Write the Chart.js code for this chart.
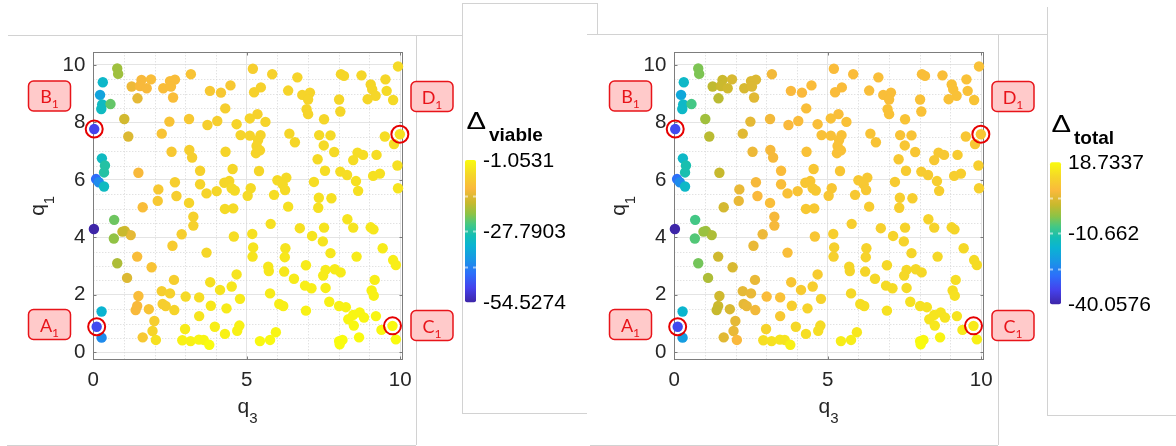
<!DOCTYPE html>
<html>
<head>
<meta charset="utf-8">
<script src="https://cdn.jsdelivr.net/npm/chart.js@4.4.0/dist/chart.umd.min.js"></script>
<style>
  body { margin: 0; background: #fff; }
  #wrap { position: relative; width: 1176px; height: 446px; overflow: hidden; background: #fff; }
  .ln { position: absolute; background: #d2d2d2; }
  canvas { position: absolute; top: 0; }
</style>
</head>
<body>
<div id="wrap">
  <!-- marcos grises de las capturas -->
  <div class="ln" style="left:8px;top:35px;width:454px;height:1px"></div>
  <div class="ln" style="left:7px;top:445px;width:409px;height:1px"></div>
  <div class="ln" style="left:416px;top:35px;width:1px;height:410px"></div>
  <div class="ln" style="left:462px;top:3px;width:135px;height:1px"></div>
  <div class="ln" style="left:462px;top:3px;width:1px;height:410px"></div>
  <div class="ln" style="left:462px;top:413px;width:125px;height:1px"></div>
  <div class="ln" style="left:597px;top:3px;width:1px;height:31px"></div>
  <div class="ln" style="left:587px;top:34px;width:460px;height:1px"></div>
  <div class="ln" style="left:998px;top:34px;width:1px;height:411px"></div>
  <div class="ln" style="left:590px;top:445px;width:408px;height:1px"></div>
  <div class="ln" style="left:1047px;top:7px;width:1px;height:408px"></div>
  <div class="ln" style="left:1047px;top:415px;width:129px;height:1px"></div>
  <canvas id="izq" width="581" height="446" style="left:0"></canvas>
  <canvas id="der" width="595" height="446" style="left:581px"></canvas>
</div>
<script>
// ==============================
// DATOS
// ==============================
const q3 = [
  0.78, 0.81, 0.31, 0.22, 0.29, 0.26, 0.56, 0.03, 1.01, 1.14,
  0.28, 0.38, 0.35, 0.09, 0.18, 0.35, 1.25, 1.57, 1.52, 1.74,
  1.88, 1.44, 2.28, 2.50, 2.66, 2.53, 2.60, 3.18, 3.80, 4.16,
  4.47, 4.30, 5.20, 2.48, 3.12, 3.72, 4.04, 4.67, 4.80, 5.10,
  5.10, 2.23, 2.55, 3.13, 3.22, 4.31, 3.48, 4.54, 1.47, 2.66,
  3.48, 4.27, 4.43, 4.51, 4.61, 2.12, 3.69, 4.02, 2.71, 2.10,
  3.12, 1.61, 4.29, 4.56,
  5.83, 6.65, 8.07, 8.17, 8.74, 9.93, 5.46, 5.24, 6.35, 6.81,
  7.06, 7.00, 8.01, 9.04, 9.09, 9.20, 8.94, 9.52, 9.56, 9.77,
  6.95, 7.00, 8.05, 5.35, 5.61, 7.52, 5.45, 5.37, 6.39, 6.57,
  7.36, 7.73, 7.51, 7.85, 5.32, 5.43, 5.30, 9.50, 9.99, 9.80,
  7.31, 8.47, 8.61, 8.79, 9.23, 5.40, 7.55, 8.05, 8.27, 9.12,
  9.34, 9.91, 6.00, 6.29, 6.17, 6.25, 7.19, 8.56, 8.63, 5.13,
  5.03, 5.89, 7.35, 7.76, 9.93, 6.35, 7.33,
  0.02, 0.68, 0.67, 0.78, 1.03, 1.22, 0.95, 1.10, 1.43, 1.90,
  1.47, 1.43, 1.38, 1.81, 1.99, 1.93, 2.04, 1.61, 0.27, 0.11,
  0.27, 2.23, 2.50, 2.26, 2.36, 2.64, 2.63, 2.58, 2.88, 3.26,
  3.26, 3.01, 3.45, 3.45, 2.99, 2.90, 3.17, 3.44, 3.60, 3.78,
  3.69, 3.81, 3.83, 3.96, 4.13, 4.34, 4.51, 4.67, 4.78, 4.58,
  4.76, 4.69, 4.29,
  8.28, 8.47, 9.04, 9.13, 5.78, 6.73, 7.52, 7.13, 7.48, 5.18,
  5.21, 5.19, 6.26, 6.24, 7.73, 8.58, 9.43, 9.77, 9.86, 5.70,
  5.72, 6.22, 6.93, 7.57, 7.49, 7.87, 8.06, 6.54, 6.90, 7.11,
  7.57, 5.76, 9.17, 9.07, 9.14, 6.06, 6.19, 6.93, 7.69, 8.01,
  8.23, 8.47, 8.31, 8.68, 8.82, 9.21, 8.49, 9.39, 9.75, 9.86,
  5.95, 5.76, 5.43, 8.01, 8.12, 8.03, 8.66
];
const q1 = [
  9.88, 9.69, 9.40, 8.96, 8.63, 8.47, 8.64, 7.77, 8.12, 7.51,
  6.75, 6.50, 6.26, 6.03, 5.92, 5.77, 9.25, 9.48, 9.27, 9.19,
  9.50, 8.84, 9.19, 9.44, 9.49, 9.25, 8.87, 9.68, 9.10, 9.04,
  9.29, 8.49, 9.87, 8.03, 8.12, 7.91, 8.05, 7.94, 7.56, 8.14,
  7.54, 7.61, 6.98, 7.04, 6.78, 6.98, 6.32, 6.38, 6.25, 5.92,
  5.85, 5.90, 5.96, 5.71, 5.63, 5.67, 5.53, 5.61, 5.44, 5.27,
  5.20, 5.05, 4.99, 5.01,
  9.68, 9.57, 9.68, 9.62, 9.64, 9.95, 9.22, 9.05, 9.11, 8.96,
  9.04, 8.80, 8.80, 9.32, 9.15, 8.93, 8.81, 9.50, 9.10, 8.78,
  8.46, 8.29, 8.38, 8.29, 8.02, 8.11, 7.56, 7.39, 7.61, 7.31,
  7.56, 7.55, 7.20, 6.97, 7.18, 7.03, 6.93, 7.51, 7.59, 7.25,
  6.72, 6.69, 6.95, 6.87, 6.87, 6.31, 6.32, 6.29, 6.17, 6.14,
  6.22, 6.50, 5.99, 6.08, 5.85, 5.65, 5.93, 5.96, 5.62, 5.71,
  5.45, 5.48, 5.38, 5.36, 5.71, 5.07, 5.03,
  4.29, 4.61, 3.96, 3.10, 4.22, 4.08, 4.20, 2.59, 3.33, 2.96,
  1.96, 1.61, 1.47, 1.50, 1.09, 0.74, 0.43, 0.52, 1.42, 0.89,
  0.51, 2.13, 2.05, 1.68, 1.61, 1.47, 2.52, 3.71, 4.11, 4.72,
  4.41, 1.94, 1.91, 1.26, 0.81, 0.42, 0.39, 0.44, 0.43, 0.26,
  3.47, 2.44, 1.62, 0.89, 2.17, 1.53, 2.29, 2.71, 1.86, 4.03,
  0.93, 0.75, 0.64,
  4.63, 4.34, 4.35, 4.28, 4.47, 4.32, 4.34, 4.05, 3.86, 4.12,
  3.65, 3.33, 3.62, 3.31, 3.45, 3.33, 3.62, 3.21, 3.04, 2.98,
  2.83, 2.81, 3.03, 2.87, 2.67, 2.89, 2.78, 2.56, 2.32, 2.23,
  2.24, 2.05, 2.52, 2.15, 1.97, 1.68, 1.61, 1.45, 1.76, 1.61,
  1.57, 1.30, 1.15, 1.39, 1.21, 1.26, 0.93, 0.78, 0.92, 0.45,
  0.70, 0.43, 0.39, 0.39, 0.43, 0.28, 0.52
];
const deltaViable = [
  -20, -20, -32, -36, -31, -31, -23.5, -49, -16, -15,
  -31, -28, -28, -44, -40, -31, -13, -12, -12, -12,
  -11, -14, -11, -11, -11, -11, -11, -10, -9, -9,
  -9, -8, -8, -10, -9, -8, -8, -7, -7, -7,
  -7, -10, -9, -8, -8, -7, -7.5, -6.5, -12, -8,
  -7, -6.5, -6.5, -6, -6, -9, -7, -6.5, -8, -9,
  -7, -11, -6, -6,
  -7.5, -7, -6.5, -6.5, -6.5, -6, -7.5, -7.5, -7, -7,
  -7, -7, -6.5, -6.5, -6.5, -6.5, -6.5, -6.5, -6, -6,
  -7, -7, -6.5, -7.5, -7, -6.5, -7, -7, -6.5, -6.5,
  -6, -6, -6, -6, -7, -7, -7, -5.5, -5, -5.5,
  -6, -5.5, -5.5, -5.5, -5.5, -6.5, -5.5, -5.5, -5.5, -5,
  -5, -5, -6, -6, -6, -6, -5.5, -5, -5, -6,
  -6, -5.5, -5, -5, -4.5, -5, -5,
  -54.5, -23, -21, -19, -16, -14, -17, -15, -11, -10,
  -11, -12, -12, -10, -8, -7, -5, -9, -33, -48,
  -40, -8, -7.5, -8, -8, -7, -8, -8.5, -8, -7.5,
  -7.5, -6, -5.5, -4.5, -3.5, -2.5, -2.5, -2, -2, -1.1,
  -6.5, -5, -4, -3, -4.5, -3.5, -4, -4.5, -3.5, -5.5,
  -2.5, -2.5, -2.5,
  -4.5, -4.5, -4, -4, -5, -5, -4.5, -4.5, -4.5, -5,
  -4.5, -4.5, -4.5, -4, -4, -3.5, -3.5, -3, -3, -4,
  -4, -4, -3.5, -3.5, -3.5, -3.5, -3.5, -3.5, -3, -3,
  -3, -3.5, -3, -2.5, -2.5, -3, -3, -2.5, -2.5, -2.5,
  -2.5, -2, -2, -2, -2, -2, -1.5, -1.5, -1.5, -1.2,
  -2, -1.5, -1.5, -1.1, -1.1, -1.05, -1.2
];
const deltaTotal = [
  -4.5, -4.5, -15, -19, -15, -15, -8, -33, -2, 0,
  -15, -12, -12, -28, -24, -15, 0.5, 1.5, 1.5, 2,
  3, 0, 3, 3.5, 3.5, 3.5, 4, 6, 7, 7,
  7.5, 8, 7.5, 4.5, 6, 7, 7.5, 8, 8.5, 8.5,
  8.5, 4, 5.5, 6.5, 6.5, 8.5, 7.5, 9.5, 1, 6.5,
  8, 9.5, 9.5, 10, 10, 5, 8.5, 9, 7, 5,
  8, 2.5, 10, 10,
  7.5, 8, 8, 8, 8, 8.5, 7.5, 7.5, 8, 8,
  8, 8, 8.5, 8.5, 8.5, 8.5, 8.5, 8.5, 8.5, 9,
  8.5, 8.5, 8.5, 8, 8.5, 9, 8.5, 8.5, 9, 9,
  9, 9, 9.5, 9.5, 8.5, 8.5, 8.5, 9.5, 9.5, 9.5,
  10, 10, 10, 10, 10.5, 9.5, 10.5, 10.5, 10.5, 11,
  11, 11, 10, 10, 10, 10, 10.5, 11, 11, 9.5,
  9.5, 10, 11, 11, 11.5, 10.5, 11,
  -40, -8, -7, -5, -2, -1, -2.5, -1, 2, 3,
  2, 1.5, 1, 3, 4.5, 5, 7, 4, -16, -33,
  -21, 4.5, 5, 4.5, 5, 6, 5, 5, 5.5, 6.5,
  6.5, 7.5, 8.5, 10, 12, 14, 14.5, 15, 15, 17,
  8, 9.5, 11, 13, 10.5, 12, 11, 10.5, 12, 9.5,
  13.5, 14, 14,
  12, 12, 12.5, 12.5, 11, 11.5, 12, 12, 12, 11,
  11.5, 11.5, 12, 12, 12.5, 13, 13, 13.5, 13.5, 12.5,
  12.5, 12.5, 13, 13, 13, 13, 13, 13, 13.5, 13.5,
  13.5, 13, 14, 14, 14.5, 14, 14, 14.5, 14.5, 14.5,
  14.5, 15, 15, 15, 15, 15, 15.5, 16, 16, 17,
  15.5, 16.5, 16.5, 18, 18, 18.7, 17.5
];

// Ticks de los ejes y de las barras de color
const xTicks = [0, 5, 10];
const yTicks = [0, 2, 4, 6, 8, 10];
const viableTicks = [-1.0531, -27.7903, -54.5274];
const totalTicks = [18.7337, -10.662, -40.0576];

// Puntos marcados con círculo rojo y sus etiquetas
const markedQ3 = [0.03, 0.11, 9.99, 9.75];
const markedQ1 = [7.77, 0.89, 7.59, 0.92];
const markLetters = ["B", "A", "D", "C"];

// ==============================
// MAPA DE COLOR (tipo parula)
// ==============================
const parulaStops = [
  [0.00, 62, 38, 168], [0.10, 69, 65, 236], [0.20, 45, 110, 250],
  [0.30, 25, 150, 230], [0.40, 10, 180, 210], [0.47, 20, 190, 180],
  [0.55, 70, 200, 130], [0.62, 140, 195, 70], [0.70, 200, 185, 45],
  [0.80, 250, 185, 60], [0.90, 245, 215, 40], [1.00, 249, 251, 14]
];
function parula(t) {
  t = Math.max(0, Math.min(1, t));
  for (let i = 1; i < parulaStops.length; i++) {
    const a = parulaStops[i - 1], b = parulaStops[i];
    if (t <= b[0]) {
      const f = (t - a[0]) / (b[0] - a[0]);
      return `rgb(${Math.round(a[1] + f * (b[1] - a[1]))},${Math.round(a[2] + f * (b[2] - a[2]))},${Math.round(a[3] + f * (b[3] - a[3]))})`;
    }
  }
  return "rgb(249,251,14)";
}

const FONT = "'Liberation Sans', Arial, Helvetica, sans-serif";
const INK = "#262626";
Chart.defaults.font.family = FONT;

function textSub(ctx, main, sub, x, y, fMain, fSub, drop) {
  ctx.font = fMain;
  ctx.fillText(main, x, y);
  const w = ctx.measureText(main).width;
  ctx.font = fSub;
  ctx.fillText(sub, x + w, y + drop);
}
function widthSub(ctx, main, sub, fMain, fSub) {
  ctx.font = fMain; const a = ctx.measureText(main).width;
  ctx.font = fSub; return a + ctx.measureText(sub).width;
}

// ==============================
// PLUGIN DE DECORACIÓN
// ==============================
const deco = {
  id: "deco",
  beforeDatasetsDraw(chart, args, o) {
    const { ctx, chartArea: a, scales: { x, y } } = chart;
    ctx.save();
    // rejilla menor punteada
    ctx.strokeStyle = "#d6d6d6";
    ctx.lineWidth = 1;
    ctx.setLineDash([1, 2]);
    ctx.beginPath();
    for (let v = 1; v < 10; v++) {
      if (v === 5) continue;
      const px = Math.round(x.getPixelForValue(v)) + 0.5;
      ctx.moveTo(px, a.top); ctx.lineTo(px, a.bottom);
    }
    for (let v = 0.5; v < 10.4; v += 0.5) {
      if (v % 2 === 0) continue;
      const py = Math.round(y.getPixelForValue(v)) + 0.5;
      ctx.moveTo(a.left, py); ctx.lineTo(a.right, py);
    }
    ctx.stroke();
    ctx.setLineDash([]);
    // caja de ejes
    ctx.strokeStyle = "#7d7d7d";
    const L = Math.round(a.left) + 0.5, T = Math.round(a.top) + 0.5;
    const R = Math.round(a.right) + 0.5, B = Math.round(a.bottom) + 0.5;
    ctx.strokeRect(L, T, R - L, B - T);
    ctx.beginPath();
    xTicks.forEach(v => {
      const px = Math.round(x.getPixelForValue(v)) + 0.5;
      ctx.moveTo(px, B); ctx.lineTo(px, B - 3);
      ctx.moveTo(px, T); ctx.lineTo(px, T + 3);
    });
    yTicks.forEach(v => {
      const py = Math.round(y.getPixelForValue(v)) + 0.5;
      ctx.moveTo(L, py); ctx.lineTo(L + 3, py);
      ctx.moveTo(R, py); ctx.lineTo(R - 3, py);
    });
    ctx.stroke();
    ctx.restore();
  },
  afterDraw(chart, args, o) {
    const { ctx, chartArea: a } = chart;
    ctx.save();
    ctx.fillStyle = INK;
    ctx.textBaseline = "alphabetic";
    ctx.textAlign = "left";
    // títulos de los ejes
    const fq = `21px ${FONT}`, fs = `15px ${FONT}`;
    const wx = widthSub(ctx, "q", "3", fq, fs);
    textSub(ctx, "q", "3", (a.left + a.right) / 2 - wx / 2, a.bottom + 53.5, fq, fs, 10);
    const wy = widthSub(ctx, "q", "1", fq, fs);
    ctx.save();
    ctx.translate(o.yTitleX, (a.top + a.bottom) / 2);
    ctx.rotate(-Math.PI / 2);
    textSub(ctx, "q", "1", -wy / 2, 0, fq, fs, 10);
    ctx.restore();

    // barra de color
    const cb = o.cbar, lo = o.ticks[o.ticks.length - 1], hi = o.ticks[0];
    const g = ctx.createLinearGradient(0, cb.y + cb.h, 0, cb.y);
    parulaStops.forEach(s => g.addColorStop(s[0], `rgb(${s[1]},${s[2]},${s[3]})`));
    ctx.fillStyle = g;
    ctx.beginPath();
    ctx.roundRect(cb.x, cb.y, cb.w, cb.h, 2);
    ctx.fill();
    ctx.strokeStyle = "rgba(255,255,255,0.55)";
    ctx.beginPath();
    [0.25, 0.5, 0.75].forEach(f => {
      const py = Math.round(cb.y + f * cb.h) + 0.5;
      ctx.moveTo(cb.x, py); ctx.lineTo(cb.x + 3, py);
      ctx.moveTo(cb.x + cb.w - 3, py); ctx.lineTo(cb.x + cb.w, py);
    });
    ctx.stroke();
    ctx.fillStyle = "#000";
    ctx.font = `21px ${FONT}`;
    ctx.textBaseline = "middle";
    o.ticks.forEach(v => {
      const py = cb.y + cb.h - (v - lo) / (hi - lo) * cb.h;
      ctx.fillText(String(v), cb.x + 18, py + 1);
    });
    // título de la barra (Δ con subíndice)
    ctx.textBaseline = "alphabetic";
    ctx.save();
    ctx.translate(o.delta.x, o.delta.y);
    ctx.scale(1.22, 1);
    ctx.font = `24px ${FONT}`;
    ctx.fillText("\u0394", 0, 0);
    ctx.restore();
    ctx.font = `bold 19px ${FONT}`;
    ctx.fillText(o.sub, o.delta.x + 22.5, o.delta.y + 12.5);

    // etiquetas A1..D1
    o.boxes.forEach((bx, i) => {
      ctx.fillStyle = "#ffcaca";
      ctx.strokeStyle = "#e8141a";
      ctx.lineWidth = 1.5;
      ctx.beginPath();
      ctx.roundRect(bx[0], bx[1], 42, 30, 5);
      ctx.fill();
      ctx.stroke();
      ctx.fillStyle = "#e8141a";
      const fm = `18px Lato, 'Open Sans', sans-serif`, fsub = `12px Lato, 'Open Sans', sans-serif`;
      const w = widthSub(ctx, markLetters[i], "1", fm, fsub);
      textSub(ctx, markLetters[i], "1", bx[0] + 21 - w / 2, bx[1] + 22, fm, fsub, 5);
    });
    ctx.restore();
  }
};

// ==============================
// PANELES
// ==============================
function panel(id, values, ticks, sub, cbar, delta) {
  const canvas = document.getElementById(id);
  const lo = ticks[ticks.length - 1], hi = ticks[0];
  const colores = values.map(v => parula((v - lo) / (hi - lo)));
  const tickFont = { family: FONT, size: 20.5 };
  return new Chart(canvas, {
    type: "scatter",
    data: {
      datasets: [
        {
          data: q3.map((v, i) => ({ x: v, y: q1[i] })),
          pointBackgroundColor: colores,
          pointBorderWidth: 0,
          pointRadius: 5.2,
          pointHoverRadius: 5.2,
          clip: false,
          order: 2
        },
        {
          data: markedQ3.map((v, i) => ({ x: v, y: markedQ1[i] })),
          pointBackgroundColor: "rgba(0,0,0,0)",
          pointBorderColor: "#e60000",
          pointBorderWidth: 2,
          pointRadius: 8.5,
          pointHoverRadius: 8.5,
          clip: false,
          order: 1
        }
      ]
    },
    options: {
      responsive: false,
      animation: false,
      events: [],
      layout: { padding: { left: 53.3, right: canvas.width - 401.7, top: 52.3, bottom: 446 - 359.3 - 50 } },
      plugins: {
        legend: { display: false },
        tooltip: { enabled: false },
        deco: { ticks, sub, cbar, delta, yTitleX: 44,
          boxes: [[28.5, 81], [28.5, 309.5], [411, 81.5], [411, 310.5]] }
      },
      scales: {
        x: {
          type: "linear", min: 0, max: 10.05,
          afterBuildTicks: s => { s.ticks = xTicks.map(v => ({ value: v })); },
          afterFit: s => { s.height = 50; },
          grid: { color: "#e4e4e4", drawTicks: false },
          border: { display: false },
          ticks: { font: tickFont, color: INK, padding: 9, maxRotation: 0 }
        },
        y: {
          type: "linear", min: -0.244, max: 10.442,
          afterBuildTicks: s => { s.ticks = yTicks.map(v => ({ value: v })); },
          afterFit: s => { s.width = 40; },
          grid: { color: "#e4e4e4", drawTicks: false },
          border: { display: false },
          ticks: { font: tickFont, color: INK, padding: 8 }
        }
      }
    },
    plugins: [deco]
  });
}

panel("izq", deltaViable, viableTicks, "viable",
  { x: 465, y: 160, w: 11, h: 142.3 }, { x: 466.5, y: 128.5 });
panel("der", deltaTotal, totalTicks, "total",
  { x: 469, y: 162.3, w: 11, h: 142 }, { x: 470.5, y: 131.5 });
</script>
</body>
</html>
